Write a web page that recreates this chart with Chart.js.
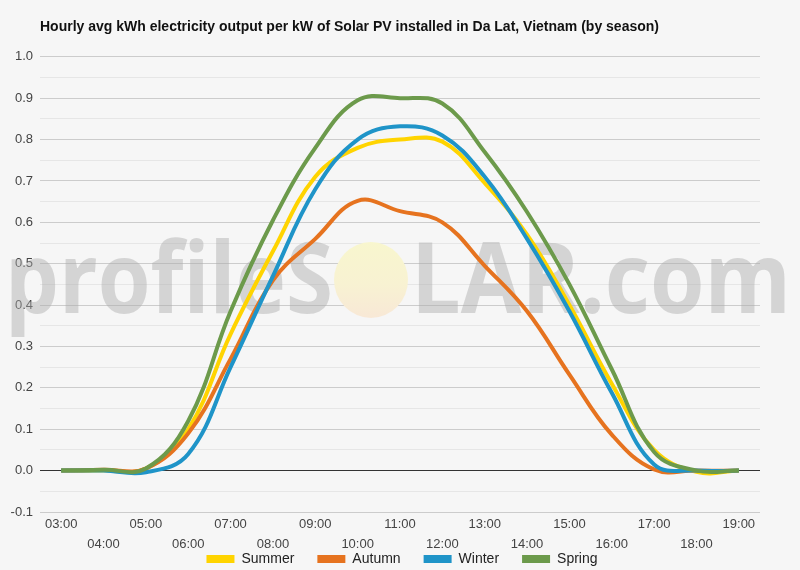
<!DOCTYPE html>
<html>
<head>
<meta charset="utf-8">
<script src="https://cdn.jsdelivr.net/npm/chart.js@4"></script>
<style>
  html, body { margin: 0; padding: 0; background: #f6f6f6; }
  #wrap { width: 800px; height: 570px; }
</style>
</head>
<body>
<div id="wrap"><canvas id="chart" width="800" height="570"></canvas></div>
<script>
// hours of the day
const hours = ['03:00', '04:00', '05:00', '06:00', '07:00', '08:00', '09:00', '10:00', '11:00',
  '12:00', '13:00', '14:00', '15:00', '16:00', '17:00', '18:00', '19:00'];

// hourly kWh per kW
const summer = [0, 0, 0.005, 0.10, 0.33, 0.53, 0.71, 0.78, 0.80, 0.795, 0.695, 0.57, 0.40, 0.21, 0.05, -0.003, 0];
const autumn = [0, 0.002, 0.005, 0.09, 0.27, 0.46, 0.56, 0.652, 0.627, 0.60, 0.495, 0.385, 0.232, 0.087, 0.003, 0, 0];
const winter = [0, 0, -0.004, 0.04, 0.25, 0.47, 0.68, 0.80, 0.832, 0.81, 0.71, 0.56, 0.385, 0.188, 0.015, 0, 0];
const spring = [0, 0.002, 0.005, 0.12, 0.385, 0.605, 0.78, 0.895, 0.90, 0.887, 0.77, 0.625, 0.45, 0.245, 0.045, 0, 0];

const yMin = -0.1;
const yMax = 1.0;

const FONT = "'Liberation Sans', Arial, sans-serif";

// big grey watermark with the sun instead of the O
const watermark = {
  id: 'watermark',
  beforeDatasetsDraw(chart) {
    const ctx = chart.ctx;
    ctx.save();
    ctx.fillStyle = 'rgba(170,170,170,0.45)';
    ctx.font = "bold 98px 'Open Sans', sans-serif";
    ctx.textBaseline = 'alphabetic';

    // left part
    let w = ctx.measureText('profileS').width;
    ctx.save();
    ctx.translate(5, 313);
    ctx.scale(328 / w, 1);
    ctx.fillText('profileS', 0, 0);
    ctx.restore();

    // right part
    w = ctx.measureText('LAR.com').width;
    ctx.save();
    ctx.translate(411, 313);
    ctx.scale(380 / w, 1);
    ctx.fillText('LAR.com', 0, 0);
    ctx.restore();

    // sun
    const g = ctx.createLinearGradient(0, 242, 0, 318);
    g.addColorStop(0, 'rgb(248,246,206)');
    g.addColorStop(0.55, 'rgb(248,242,210)');
    g.addColorStop(1, 'rgb(248,232,214)');
    ctx.fillStyle = g;
    ctx.beginPath();
    ctx.ellipse(371, 280, 37, 38, 0, 0, Math.PI * 2);
    ctx.fill();
    ctx.restore();
  }
};

// legend sits under the two rows of hour labels
const legendPlace = {
  id: 'legendPlace',
  afterInit(chart) {
    const lg = chart.legend;
    const orig = lg.fit.bind(lg);
    lg.fit = function () { orig(); lg.height = 16; };
  },
  afterLayout(chart) {
    const lg = chart.legend;
    lg.top = 529;
    lg.left += 22;
    lg.right += 22;
  }
};

function makeSet(label, data, color, order) {
  return {
    label: label,
    data: data,
    borderColor: color,
    backgroundColor: color,
    borderWidth: 4,
    pointRadius: 0,
    pointHoverRadius: 0,
    tension: 0.4,
    fill: false,
    order: order
  };
}

const ctx = document.getElementById('chart').getContext('2d');
new Chart(ctx, {
  type: 'line',
  data: {
    labels: hours,
    datasets: [
      makeSet('Summer', summer, '#ffd400', 3),
      makeSet('Autumn', autumn, '#e6731f', 2),
      makeSet('Winter', winter, '#1f94c8', 1),
      makeSet('Spring', spring, '#6c9a4b', 0)
    ]
  },
  options: {
    responsive: false,
    animation: false,
    layout: { padding: { left: 0, right: 40, top: 0, bottom: 0 } },
    scales: {
      x: {
        offset: true,
        grid: { display: false, drawTicks: false },
        border: { display: false },
        ticks: {
          autoSkip: false,
          maxRotation: 0,
          padding: 2,
          color: '#444',
          font: { family: FONT, size: 13, lineHeight: 1.55 },
          // alternate labels on two rows
          callback: function (value, index) {
            const lab = hours[index];
            return index % 2 === 0 ? [lab, ''] : ['', lab];
          }
        },
        afterFit: function (scale) { scale.height = 42; }
      },
      y: {
        min: yMin,
        max: yMax,
        border: { display: false },
        grid: {
          drawTicks: false,
          lineWidth: 1,
          color: function (c) {
            const v = Math.round(c.tick.value * 100);
            if (v === 0) return '#333333';
            return v % 10 === 0 ? '#cccccc' : '#e6e6e6';
          }
        },
        ticks: {
          stepSize: 0.05,
          padding: 7,
          color: '#444',
          font: { family: FONT, size: 13 },
          callback: function (value) {
            const v = Math.round(value * 100);
            return v % 10 === 0 ? (v / 100).toFixed(1) : '';
          }
        },
        afterFit: function (scale) { scale.width = 40; }
      }
    },
    plugins: {
      title: {
        display: true,
        text: 'Hourly avg kWh electricity output per kW of Solar PV installed in Da Lat, Vietnam (by season)',
        align: 'start',
        fullSize: false,
        color: '#111',
        font: { family: FONT, size: 14, weight: 'bold', lineHeight: 1.2 },
        padding: { top: 19, bottom: 21 }
      },
      legend: {
        position: 'bottom',
        labels: {
          boxWidth: 28,
          boxHeight: 8,
          padding: 23,
          color: '#222',
          font: { family: FONT, size: 14 },
          sort: function (a, b) { return a.datasetIndex - b.datasetIndex; },
          generateLabels: function (chart) {
            const items = Chart.defaults.plugins.legend.labels.generateLabels(chart);
            items.forEach(function (it) { it.lineWidth = 0; });
            return items;
          }
        }
      },
      tooltip: { enabled: false }
    }
  },
  plugins: [watermark, legendPlace]
});
</script>
</body>
</html>
